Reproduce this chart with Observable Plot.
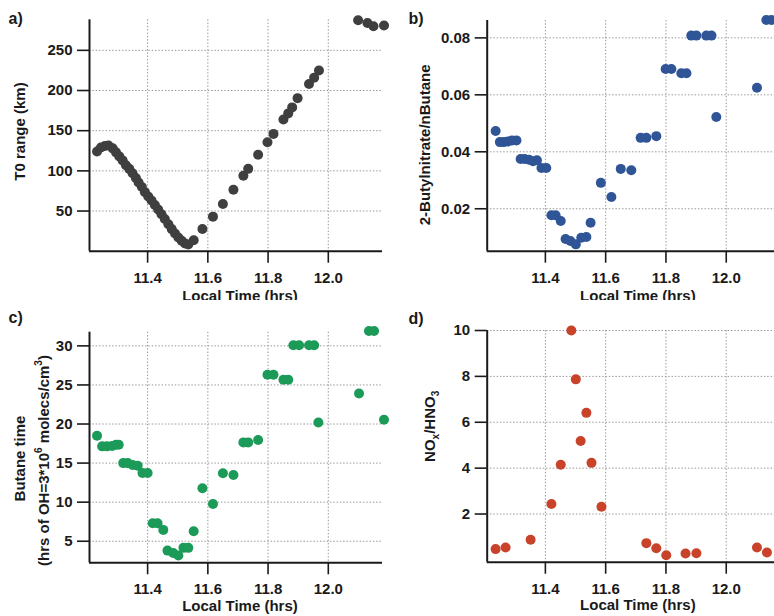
<!DOCTYPE html>
<html><head><meta charset="utf-8">
<script src="https://cdn.jsdelivr.net/npm/d3@7"></script>
<script src="https://cdn.jsdelivr.net/npm/@observablehq/plot@0.6"></script>
<style>
html,body{margin:0;padding:0;background:#fff;}
#wrap{position:relative;width:774px;height:616px;overflow:hidden;background:#fff;}
#wrap > svg{position:absolute;}
</style></head><body><div id="wrap"></div>
<script>
// ---- data ----
const timeTicks = [11.4, 11.6, 11.8, 12.0];
const xLabel = "Local Time (hrs)";

const timeA = [11.232, 11.245, 11.258, 11.270, 11.284, 11.295, 11.306, 11.317, 11.328, 11.339, 11.350, 11.361, 11.370, 11.381, 11.391, 11.402, 11.413, 11.424, 11.435, 11.446, 11.457, 11.469, 11.480, 11.491, 11.502, 11.513, 11.524, 11.535, 11.553, 11.582, 11.617, 11.650, 11.685, 11.718, 11.734, 11.767, 11.798, 11.818, 11.851, 11.867, 11.880, 11.898, 11.936, 11.953, 11.969, 12.099, 12.130, 12.150, 12.185];
const rangeA = [124, 129, 131, 131.5, 128, 123, 118, 113, 107, 102.5, 97, 91, 85.5, 80, 73.5, 68, 63, 57.5, 52, 46, 40, 33.5, 27.5, 22, 17, 13, 9.5, 8.3, 13.7, 27.7, 43, 58.7, 76.4, 94, 102.5, 120, 135.5, 146, 164, 171.5, 179, 190.5, 208, 216, 225, 287.5, 284, 280, 281];
const yTicksA = [50, 100, 150, 200, 250];
const yLabelA = "T0 range (km)";

const timeB = [11.235, 11.249, 11.262, 11.276, 11.289, 11.304, 11.318, 11.331, 11.346, 11.359, 11.372, 11.387, 11.403, 11.420, 11.434, 11.451, 11.467, 11.483, 11.501, 11.519, 11.536, 11.550, 11.584, 11.619, 11.650, 11.685, 11.716, 11.735, 11.768, 11.799, 11.818, 11.851, 11.868, 11.884, 11.901, 11.934, 11.951, 11.967, 12.102, 12.133, 12.150];
const ratioB = [0.0473, 0.0434, 0.0434, 0.0436, 0.0440, 0.0440, 0.0375, 0.0375, 0.0372, 0.0367, 0.0370, 0.0343, 0.0343, 0.0177, 0.0177, 0.0157, 0.0094, 0.0087, 0.0075, 0.0098, 0.0101, 0.0151, 0.0291, 0.0241, 0.0340, 0.0335, 0.0449, 0.0449, 0.0455, 0.0691, 0.0691, 0.0676, 0.0676, 0.0808, 0.0808, 0.0808, 0.0808, 0.0522, 0.0625, 0.0863, 0.0863];
const yTicksB = [0.02, 0.04, 0.06, 0.08];
const yLabelB = "2-Butylnitrate/nButane";

const timeC = [11.232, 11.249, 11.265, 11.282, 11.295, 11.304, 11.319, 11.334, 11.350, 11.367, 11.383, 11.400, 11.417, 11.433, 11.452, 11.466, 11.485, 11.502, 11.519, 11.535, 11.553, 11.582, 11.617, 11.650, 11.685, 11.718, 11.734, 11.767, 11.798, 11.818, 11.851, 11.867, 11.884, 11.903, 11.936, 11.953, 11.967, 12.102, 12.135, 12.152, 12.185];
const butaneC = [18.5, 17.14, 17.14, 17.2, 17.35, 17.35, 15.0, 15.0, 14.75, 14.67, 13.73, 13.73, 7.3, 7.3, 6.45, 3.8, 3.5, 3.17, 4.15, 4.15, 6.28, 11.77, 9.77, 13.69, 13.48, 17.65, 17.65, 17.95, 26.3, 26.3, 25.66, 25.66, 30.08, 30.08, 30.08, 30.08, 20.2, 23.9, 31.9, 31.9, 20.55];
const yTicksC = [5, 10, 15, 20, 25, 30];
const yLabelC1 = "Butane time";
const yLabelC2 = "(hrs of OH=3*10^6 molecs/cm^3)";

const timeD = [11.235, 11.268, 11.351, 11.420, 11.451, 11.486, 11.501, 11.517, 11.536, 11.553, 11.586, 11.735, 11.768, 11.801, 11.865, 11.901, 12.102, 12.135];
const noxD = [0.47, 0.54, 0.88, 2.44, 4.15, 10.0, 7.87, 5.18, 6.41, 4.23, 2.32, 0.73, 0.51, 0.20, 0.28, 0.29, 0.54, 0.32];
const yTicksD = [2, 4, 6, 8, 10];
const yLabelD = "NO_x/HNO_3";

// ---- rendering ----
const FONT = "'Liberation Sans', Arial, Helvetica, sans-serif";
const xDomain = [11.207, 12.18];

function richify(svg) {
  svg.querySelectorAll("text").forEach(t => {
    const s = t.textContent;
    if (!/[\^_]/.test(s)) return;
    t.textContent = "";
    let shift = 0;
    for (const p of s.split(/([\^_].)/)) {
      if (!p) continue;
      const ts = document.createElementNS("http://www.w3.org/2000/svg", "tspan");
      let target = 0, txt = p, small = false;
      if (p.length === 2 && p[0] === "^") { target = -7; txt = p[1]; small = true; }
      else if (p.length === 2 && p[0] === "_") { target = 4; txt = p[1]; small = true; }
      ts.setAttribute("dy", String(target - shift));
      shift = target;
      if (small) ts.setAttribute("font-size", "10");
      ts.textContent = txt;
      t.appendChild(ts);
    }
  });
}

function panel(cfg) {
  const t = cfg.t, v = cfg.v;
  const rows = t.map((d, i) => ({t: d, v: v[i]}));
  const marks = [
    Plot.ruleY(cfg.yTicks, {stroke: "#9a9a9a", strokeWidth: 1, strokeDasharray: "1.5,1.8"}),
    Plot.ruleX(timeTicks, {stroke: "#9a9a9a", strokeWidth: 1, strokeDasharray: "1.5,1.8"}),
    Plot.ruleY([cfg.yDomain[0]], {stroke: "#1a1a1a", strokeWidth: 2}),
    Plot.ruleX([xDomain[0]], {stroke: "#1a1a1a", strokeWidth: 2}),
    Plot.dot(rows, {x: "t", y: "v", r: 5, fill: cfg.color, stroke: "none"}),
    Plot.text([xLabel], {text: d => d, frameAnchor: "bottom", lineAnchor: "bottom", textAnchor: "middle", dx: 4, dy: cfg.xLabDy, fontSize: 15, fontWeight: "bold", fill: "#1a1a1a"}),
    Plot.text([cfg.letter], {text: d => d, frameAnchor: "top-left", lineAnchor: "bottom", textAnchor: "start", dx: cfg.letterDx, dy: cfg.letterDy, fontSize: 16, fontWeight: "bold", fill: "#1a1a1a"})
  ];
  for (const L of cfg.ylabels) {
    marks.push(Plot.text([L.text], {text: d => d, frameAnchor: "left", rotate: -90, lineAnchor: "middle", textAnchor: "middle", dx: L.dx, dy: L.dy, fontSize: 15, fontWeight: "bold", fill: "#1a1a1a"}));
  }
  const svg = Plot.plot({
    width: cfg.width, height: cfg.height,
    marginLeft: cfg.mL, marginRight: cfg.mR, marginTop: cfg.mT, marginBottom: cfg.mB,
    style: `font-family: ${FONT}; font-size: 15px; font-weight: bold; color: #1a1a1a; background: #fff;`,
    x: {domain: xDomain, ticks: timeTicks, tickFormat: d3.format(".1f"), tickSize: 12, tickPadding: 9, label: null},
    y: {domain: cfg.yDomain, ticks: cfg.yTicks, tickFormat: cfg.yFmt, tickSize: 12, tickPadding: 5, label: null},
    marks
  });
  svg.style.left = cfg.left + "px";
  svg.style.top = cfg.top + "px";
  svg.querySelectorAll('g[aria-label^="x-axis"], g[aria-label^="y-axis"]').forEach(g => g.setAttribute("stroke-width", "1.6"));
  richify(svg);
  document.getElementById("wrap").appendChild(svg);
}

panel({left: 0, top: 0, width: 390, height: 300, mL: 89, mR: 8, mT: 19.3, mB: 49.3,
  yDomain: [0, 288], yTicks: yTicksA, yFmt: d3.format("d"), t: timeA, v: rangeA, color: "#3f3f3f", xLabDy: 50,
  ylabels: [{text: yLabelA, dx: -69.5, dy: -4}], letter: "a)", letterDx: -81, letterDy: 4});
panel({left: 390, top: 0, width: 390, height: 300, mL: 96.7, mR: 0, mT: 20, mB: 49.3,
  yDomain: [0.0051, 0.0861], yTicks: yTicksB, yFmt: d3.format(".2f"), t: timeB, v: ratioB, color: "#2f5597", xLabDy: 50,
  ylabels: [{text: yLabelB, dx: -62, dy: 9}], letter: "b)", letterDx: -78.7, letterDy: 3});
panel({left: 0, top: 300, width: 390, height: 316, mL: 89, mR: 8, mT: 31.7, mB: 53.7,
  yDomain: [2.24, 31.75], yTicks: yTicksC, yFmt: d3.format("d"), t: timeC, v: butaneC, color: "#1b9a58", xLabDy: 48,
  ylabels: [{text: yLabelC1, dx: -69.5, dy: 11}, {text: yLabelC2, dx: -45.5, dy: 13}], letter: "c)", letterDx: -81, letterDy: -9});
panel({left: 390, top: 300, width: 390, height: 316, mL: 96.7, mR: 0, mT: 30, mB: 54.3,
  yDomain: [-0.1, 10], yTicks: yTicksD, yFmt: d3.format("d"), t: timeD, v: noxD, color: "#c8432a", xLabDy: 48,
  ylabels: [{text: yLabelD, dx: -57, dy: -20}], letter: "d)", letterDx: -78.7, letterDy: -7});
</script>
</body></html>
